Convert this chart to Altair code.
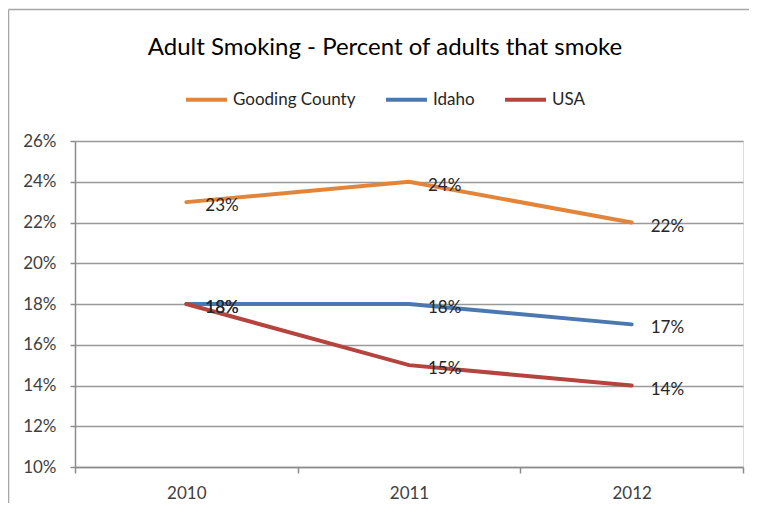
import altair as alt
import pandas as pd

years = ["2010", "2011", "2012"]
series_names = ["Gooding County", "Idaho", "USA"]
gooding = [0.23, 0.24, 0.22]
idaho = [0.18, 0.18, 0.17]
usa = [0.18, 0.15, 0.14]
colors = ["#E2853A", "#4A78B0", "#B5443F"]
y_ticks = [0.10, 0.12, 0.14, 0.16, 0.18, 0.20, 0.22, 0.24, 0.26]

rows = []
for name, vals in zip(series_names, [gooding, idaho, usa]):
    for yr, v in zip(years, vals):
        rows.append({"Year": yr, "Series": name, "Value": v})
df = pd.DataFrame(rows)

FONT = "Lato"
W, H = 668, 326

x_enc = alt.X("Year:N", sort=years,
              scale=alt.Scale(type="band", paddingInner=0, paddingOuter=0),
              axis=alt.Axis(title=None, labelAngle=0, tickBand="extent",
                            tickSize=6, labelPadding=12, labelFontSize=17,
                            labelColor="#404040", labelFont=FONT,
                            domainColor="#8C8C8C", tickColor="#8C8C8C",
                            domainWidth=1.5, tickWidth=1.5, grid=False))
y_enc = alt.Y("Value:Q",
              scale=alt.Scale(domain=[0.10, 0.26], nice=False, zero=False),
              axis=alt.Axis(title=None, values=y_ticks, format=".0%",
                            tickSize=5, labelPadding=14, labelFontSize=17,
                            labelColor="#404040", labelFont=FONT,
                            grid=True, gridColor="#999999", gridWidth=1.5,
                            domainColor="#8C8C8C", tickColor="#8C8C8C",
                            domainWidth=1.5, tickWidth=1.5))
color_enc = alt.Color("Series:N", sort=series_names,
                      scale=alt.Scale(domain=series_names, range=colors),
                      legend=alt.Legend(title=None, orient="none", direction="horizontal",
                                        legendX=109, legendY=-64,
                                        symbolType="stroke", symbolSize=1681,
                                        symbolStrokeWidth=4, labelFontSize=17,
                                        labelFont=FONT, labelColor="#262626",
                                        labelOffset=4, columnPadding=22, padding=0))

base = alt.Chart(df)
lines = base.mark_line(strokeWidth=4, strokeCap="round").encode(
    x=x_enc, y=y_enc, color=color_enc, order=alt.Order("Year:N"))
labels = base.mark_text(align="left", baseline="middle", dx=19, dy=4,
                        fontSize=17, font=FONT, color="#262626").encode(
    x=alt.X("Year:N", sort=years), y="Value:Q",
    text=alt.Text("Value:Q", format=".0%"))

one = pd.DataFrame({"a": [0]})
frame_top = alt.Chart(one).mark_rule(stroke="#A6A6A6", strokeWidth=1.5, clip=False).encode(
    x=alt.value(-66.5), x2=alt.value(674), y=alt.value(-131.5))
frame_left = alt.Chart(one).mark_rule(stroke="#A6A6A6", strokeWidth=1.5, clip=False).encode(
    x=alt.value(-66.5), y=alt.value(-131.5), y2=alt.value(362))

chart = alt.layer(frame_top, frame_left, lines, labels).properties(
    width=W, height=H,
    title=alt.TitleParams("Adult Smoking - Percent of adults that smoke",
                          fontSize=24, font=FONT, fontWeight="normal", color="#000000",
                          anchor="middle", dx=-24, offset=-75, baseline="bottom"),
    padding={"left": 67, "top": 133, "right": 7, "bottom": 37},
    autosize=alt.AutoSizeParams(type="none"),
).configure_view(fill="#D9D9D9", stroke=None).configure(background="white")

chart.save("out.html", embed_options={"renderer": "svg", "actions": False})
